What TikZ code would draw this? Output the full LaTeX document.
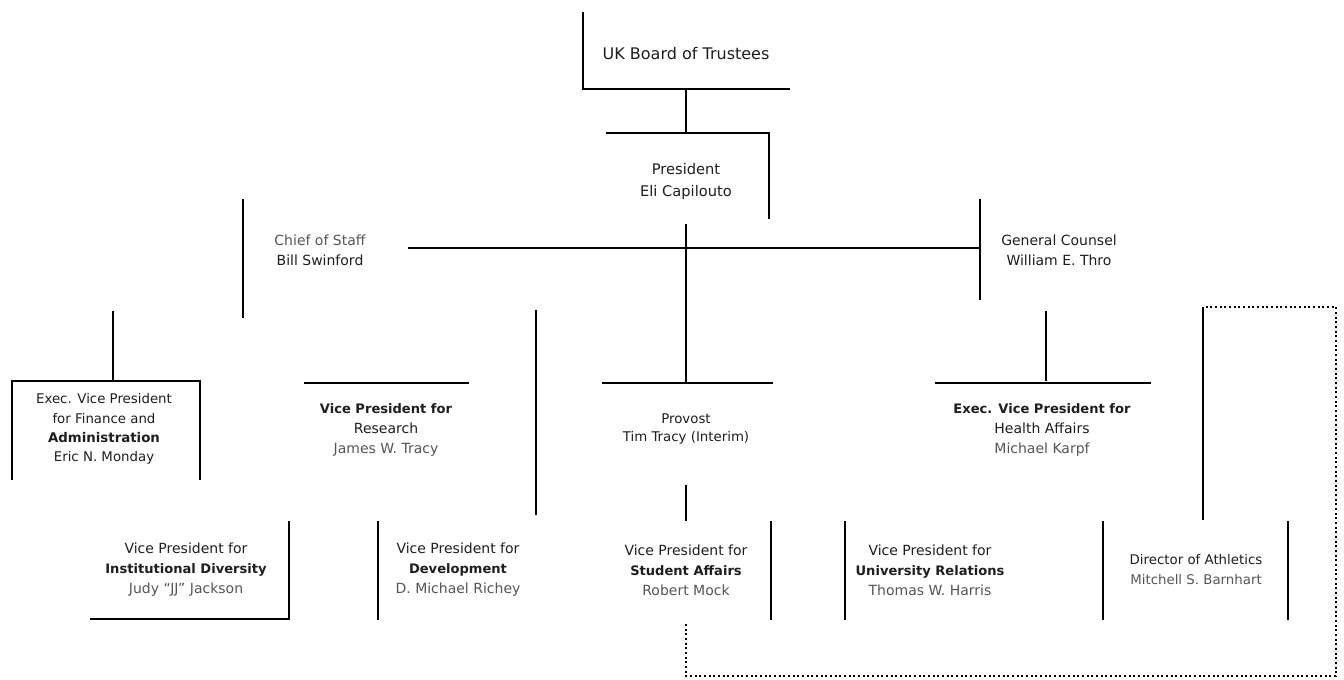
\documentclass[tikz,border=0pt]{standalone}
\usepackage{fontspec}
\setmainfont{DejaVu Sans}
\definecolor{inkgray}{HTML}{1E1E1E}
\definecolor{namegray}{HTML}{555555}
\tikzset{
    rule/.style={line width=2.2pt, black},
    linkdots/.style={line width=1.5pt, black, dotted},
    unitnode/.style={align=center, inner sep=0pt, text=inkgray, font=\fontsize{10.5}{15}\selectfont},
}
% three-line label: office, unit, holder
\newcommand{\officetrio}[3]{#1\\{\bfseries\fontsize{9.8}{15}\selectfont #2}\\{\color{namegray}#3}}
\begin{document}
\begin{tikzpicture}[x=0.75pt, y=-0.75pt]
    \useasboundingbox (0,0) rectangle (1344,679);

    % Board and President
    \node[unitnode, font=\fontsize{12}{15}\selectfont] (board) at (686,54) {UK Board of Trustees};
    \draw[rule] (583,12) -- (583,89) -- (790,89);
    \draw[rule] (686,89) -- (686,133);
    \node[unitnode, font=\fontsize{11}{16.5}\selectfont] (president) at (686,181) {President\\Eli Capilouto};
    \draw[rule] (606,133) -- (769,133) -- (769,219);

    % Staff line
    \node[unitnode] (staff) at (320,250) {{\color{namegray}Chief of Staff}\\Bill Swinford};
    \node[unitnode] (counsel) at (1059,250) {General Counsel\\William E. Thro};
    \draw[rule] (243,199) -- (243,318);
    \draw[rule] (980,199) -- (980,300);
    \draw[rule] (408,248) -- (980,248);
    \draw[rule] (686,224) -- (686,383);

    % Vice presidents, upper row
    \node[unitnode, font=\fontsize{10}{14.5}\selectfont] (finance) at (104,429)
        {Exec. Vice President\\for Finance and\\{\bfseries Administration}\\Eric N. Monday};
    \draw[rule] (113,311) -- (113,381);
    \draw[rule] (12,480) -- (12,381) -- (200,381) -- (200,480);

    \node[unitnode] (research) at (386,430)
        {{\bfseries\fontsize{9.8}{15}\selectfont Vice President for}\\Research\\{\color{namegray}James W. Tracy}};
    \draw[rule] (304,383) -- (469,383);

    \node[unitnode, font=\fontsize{10}{14}\selectfont] (provost) at (686,429) {Provost\\Tim Tracy (Interim)};
    \draw[rule] (602,383) -- (773,383);

    \node[unitnode] (health) at (1042,430)
        {{\bfseries\fontsize{9.8}{15}\selectfont Exec. Vice President for}\\Health Affairs\\{\color{namegray}Michael Karpf}};
    \draw[rule] (1046,311) -- (1046,381);
    \draw[rule] (935,383) -- (1151,383);

    % Vice presidents, lower row
    \node[unitnode] (diversity) at (186,570) {\officetrio{Vice President for}{Institutional Diversity}{Judy ``JJ'' Jackson}};
    \draw[rule] (90,619) -- (289,619) -- (289,521);

    \node[unitnode] (development) at (458,570) {\officetrio{Vice President for}{Development}{D. Michael Richey}};
    \draw[rule] (378,521) -- (378,620);
    \draw[rule] (536,310) -- (536,515);

    \node[unitnode] (students) at (686,570) {\officetrio{Vice President for}{Student Affairs}{Robert Mock}};
    \draw[rule] (686,485) -- (686,521);
    \draw[rule] (771,521) -- (771,620);

    \node[unitnode] (relations) at (930,570) {\officetrio{Vice President for}{University Relations}{Thomas W. Harris}};
    \draw[rule] (845,521) -- (845,620);

    \node[unitnode, font=\fontsize{10}{15}\selectfont] (athletics) at (1196,570) {Director of Athletics\\{\color{namegray}Mitchell S. Barnhart}};
    \draw[rule] (1103,521) -- (1103,620);
    \draw[rule] (1288,521) -- (1288,620);
    \draw[rule] (1203,307) -- (1203,520);

    % dotted reporting line
    \draw[linkdots] (686,624) -- (686,676) -- (1336,676) -- (1336,307) -- (1203,307);
\end{tikzpicture}
\end{document}
